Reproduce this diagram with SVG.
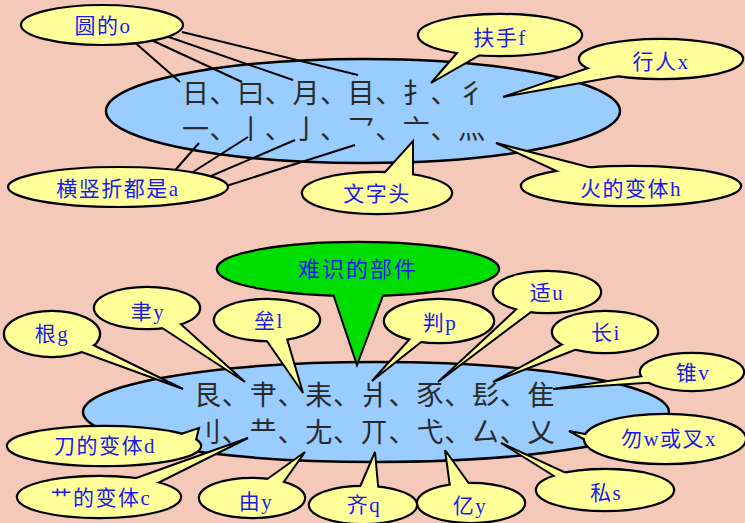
<svg xmlns="http://www.w3.org/2000/svg" width="745" height="523" viewBox="0 0 745 523">
<style>
.bg{fill:#f5c9ba}
.big{fill:#99ccff;stroke:#000;stroke-width:2.5}
.ring{stroke:#000;stroke-width:4.5}
.plain{fill:#ffff99;stroke:#000;stroke-width:2.2}
.y{fill:#ffff99}
.g{fill:#00dd00}
.wedge{stroke:#000;stroke-width:2;stroke-linejoin:miter}
.lbl{font-family:"Liberation Serif","Noto Sans CJK SC",serif;font-size:21px;fill:#1a1aee;text-anchor:middle;letter-spacing:1.5px}
.han{font-family:"Noto Sans CJK SC",sans-serif;font-size:27px;fill:#2a2a2a;letter-spacing:0.6px}
.con line{stroke:#000;stroke-width:2}
</style>
<rect class="bg" x="0" y="0" width="745" height="523"/>

<g id="top-main">
<ellipse class="big" cx="363" cy="111" rx="257" ry="52"/>
<text class="han" x="182" y="103">日、曰、月、目、扌、彳</text>
<text class="han" x="182" y="139">一、丨、亅、乛、亠、灬</text>
</g>

<g id="connectors" class="con">
<line x1="132" y1="40" x2="180" y2="82"/>
<line x1="147" y1="38" x2="242" y2="82"/>
<line x1="163" y1="35" x2="293" y2="80"/>
<line x1="182" y1="32" x2="358" y2="75"/>
<line x1="171" y1="175" x2="199" y2="143"/>
<line x1="185" y1="177" x2="248" y2="137"/>
<line x1="204" y1="179" x2="295" y2="140"/>
<line x1="220" y1="188" x2="355" y2="145"/>
</g>

<g id="n-yuan">
<ellipse class="plain" cx="102" cy="25" rx="81" ry="20"/>
<text class="lbl" x="103" y="33">圆的o</text>
</g>
<g id="n-heng">
<ellipse class="plain" cx="118" cy="187" rx="110" ry="20"/>
<text class="lbl" x="118" y="196">横竖折都是a</text>
</g>
<g id="n-wenzitou">
<ellipse class="y ring" cx="377" cy="193" rx="74" ry="20"/>
<polygon class="y wedge" points="378,180 413,141 413,183"/>
<ellipse class="y" cx="377" cy="193" rx="74" ry="20"/>
<text class="lbl" x="377" y="201">文字头</text>
</g>
<g id="n-fushou">
<ellipse class="y ring" cx="500" cy="35" rx="81" ry="20"/>
<polygon class="y wedge" points="463,46 431,83 485,52"/>
<ellipse class="y" cx="500" cy="35" rx="81" ry="20"/>
<text class="lbl" x="500" y="45">扶手f</text>
</g>
<g id="n-xingren">
<ellipse class="y ring" cx="661" cy="59" rx="81" ry="19"/>
<polygon class="y wedge" points="600,64 503,97 625,75"/>
<ellipse class="y" cx="661" cy="59" rx="81" ry="19"/>
<text class="lbl" x="661" y="69">行人x</text>
</g>
<g id="n-huo">
<ellipse class="y ring" cx="631" cy="186" rx="109" ry="19"/>
<polygon class="y wedge" points="600,170 496,143 565,175"/>
<ellipse class="y" cx="631" cy="186" rx="109" ry="19"/>
<text class="lbl" x="631" y="196">火的变体h</text>
</g>

<g id="bottom-main">
<ellipse class="big" cx="376" cy="412" rx="293" ry="50"/>
<text class="han" x="194" y="405" style="letter-spacing:0.8px">艮、肀、耒、爿、豕、髟、隹</text>
<text class="han" x="194" y="442" style="letter-spacing:0.8px">刂、龷、尢、丌、弋、厶、乂</text>
</g>

<g id="n-nanshi">
<ellipse class="g ring" cx="358" cy="269" rx="140" ry="26"/>
<polygon class="g wedge" points="330,285 357,365 387,285"/>
<ellipse class="g" cx="358" cy="269" rx="140" ry="26"/>
<text class="lbl" x="358" y="277" style="font-size:22px;letter-spacing:2px">难识的部件</text>
</g>
<g id="n-gen">
<ellipse class="y ring" cx="52" cy="334" rx="47" ry="22"/>
<polygon class="y wedge" points="81,339 183,389 68,347"/>
<ellipse class="y" cx="52" cy="334" rx="47" ry="22"/>
<text class="lbl" x="52" y="341">根g</text>
</g>
<g id="n-yu">
<ellipse class="y ring" cx="147" cy="308" rx="52" ry="20"/>
<polygon class="y wedge" points="153,322 245,382 174,318"/>
<ellipse class="y" cx="147" cy="308" rx="52" ry="20"/>
<text class="lbl" x="148" y="319">聿y</text>
</g>
<g id="n-lei">
<ellipse class="y ring" cx="267" cy="320" rx="52" ry="20"/>
<polygon class="y wedge" points="262,334 303,393 285,332"/>
<ellipse class="y" cx="267" cy="320" rx="52" ry="20"/>
<text class="lbl" x="269" y="328">垒l</text>
</g>
<g id="n-pan">
<ellipse class="y ring" cx="439" cy="321" rx="54" ry="21"/>
<polygon class="y wedge" points="416,332 372,381 430,335"/>
<ellipse class="y" cx="439" cy="321" rx="54" ry="21"/>
<text class="lbl" x="440" y="330">判p</text>
</g>
<g id="n-shi">
<ellipse class="y ring" cx="547" cy="292" rx="53" ry="20"/>
<polygon class="y wedge" points="523,303 438,382 539,306"/>
<ellipse class="y" cx="547" cy="292" rx="53" ry="20"/>
<text class="lbl" x="547" y="300">适u</text>
</g>
<g id="n-chang">
<ellipse class="y ring" cx="605" cy="332" rx="52" ry="20"/>
<polygon class="y wedge" points="570,340 493,382 585,346"/>
<ellipse class="y" cx="605" cy="332" rx="52" ry="20"/>
<text class="lbl" x="606" y="340">长i</text>
</g>
<g id="n-zhui">
<ellipse class="y ring" cx="692" cy="372" rx="51" ry="18"/>
<polygon class="y wedge" points="650,375 553,389 660,382"/>
<ellipse class="y" cx="692" cy="372" rx="51" ry="18"/>
<text class="lbl" x="693" y="380">锥v</text>
</g>
<g id="n-wu">
<ellipse class="y ring" cx="665" cy="439" rx="80" ry="24"/>
<polygon class="y wedge" points="596,436 569,431 598,447"/>
<ellipse class="y" cx="665" cy="439" rx="80" ry="24"/>
<text class="lbl" x="669" y="446">勿w或叉x</text>
</g>
<g id="n-si">
<ellipse class="y ring" cx="605" cy="490" rx="68" ry="20"/>
<polygon class="y wedge" points="562,481 501,443 575,477"/>
<ellipse class="y" cx="605" cy="490" rx="68" ry="20"/>
<text class="lbl" x="606" y="500">私s</text>
</g>
<g id="n-yi">
<ellipse class="y ring" cx="471" cy="503" rx="53" ry="19"/>
<polygon class="y wedge" points="451,494 445,450 475,492"/>
<ellipse class="y" cx="471" cy="503" rx="53" ry="19"/>
<text class="lbl" x="470" y="513">亿y</text>
</g>
<g id="n-qi">
<ellipse class="y ring" cx="363" cy="505" rx="53" ry="18"/>
<polygon class="y wedge" points="356,496 375,452 379,496"/>
<ellipse class="y" cx="363" cy="505" rx="53" ry="18"/>
<text class="lbl" x="364" y="512">齐q</text>
</g>
<g id="n-you">
<ellipse class="y ring" cx="252" cy="498" rx="52" ry="19"/>
<polygon class="y wedge" points="259,485 305,452 278,490"/>
<ellipse class="y" cx="252" cy="498" rx="52" ry="19"/>
<text class="lbl" x="256" y="509">由y</text>
</g>
<g id="n-dao">
<ellipse class="y ring" cx="104" cy="446" rx="96" ry="19"/>
<polygon class="y wedge" points="172,437 199,428 194,448"/>
<ellipse class="y" cx="104" cy="446" rx="96" ry="19"/>
<text class="lbl" x="105" y="453">刀的变体d</text>
</g>
<g id="n-cao">
<ellipse class="y ring" cx="99" cy="497" rx="81" ry="20"/>
<polygon class="y wedge" points="125,482 248,438 150,487"/>
<ellipse class="y" cx="99" cy="497" rx="81" ry="20"/>
<text class="lbl" x="101" y="505">艹的变体c</text>
</g>
</svg>
